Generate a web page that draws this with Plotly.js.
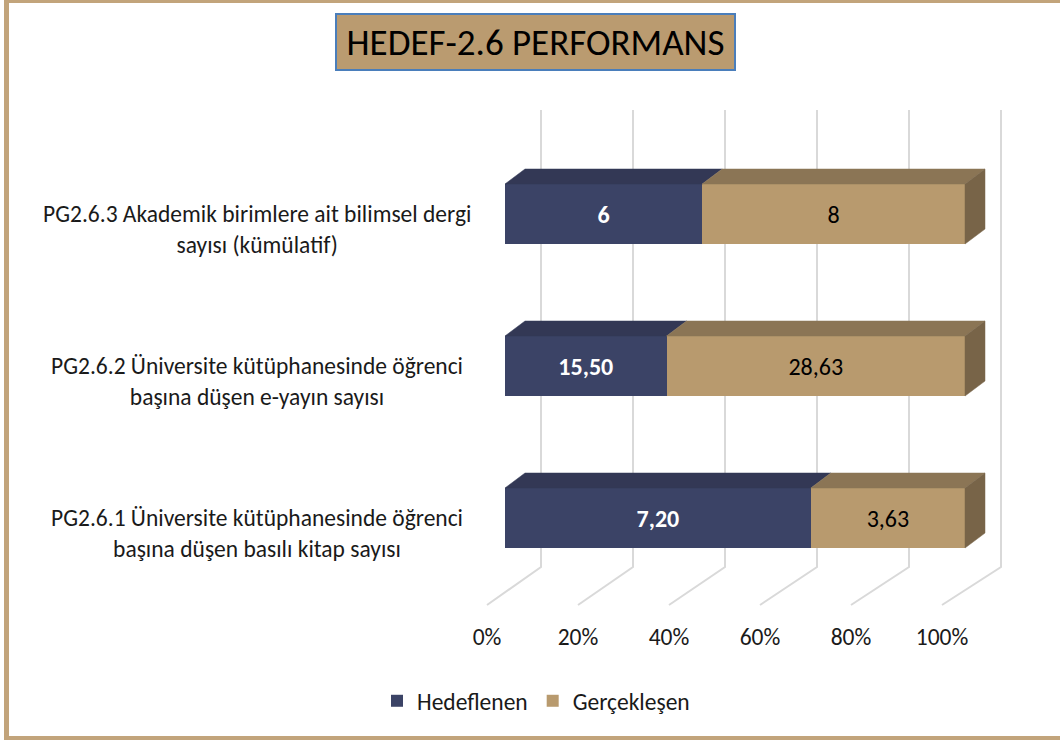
<!DOCTYPE html>
<html>
<head>
<meta charset="utf-8">
<script src="https://cdn.plot.ly/plotly-3.0.1.min.js"></script>
<style>
  html, body { margin: 0; padding: 0; background: #ffffff; overflow: hidden; }
  #chart { width: 1060px; height: 740px; }
</style>
</head>
<body>
<div id="chart"></div>
<script>
// ---- data ----
const categories = [
  'PG2.6.1 Üniversite kütüphanesinde öğrenci<br>başına düşen basılı kitap sayısı',
  'PG2.6.2 Üniversite kütüphanesinde öğrenci<br>başına düşen e-yayın sayısı',
  'PG2.6.3 Akademik birimlere ait bilimsel dergi<br>sayısı (kümülatif)'
];
const hedeflenen = [7.20, 15.50, 6];
const gerceklesen = [3.63, 28.63, 8];
const hedefLabels = ['7,20', '15,50', '6'];
const gercekLabels = ['3,63', '28,63', '8'];
const tickValues = [0, 20, 40, 60, 80, 100];
const tickLabels = ['0%', '20%', '40%', '60%', '80%', '100%'];
const seriesNames = ['Hedeflenen', 'Gerçekleşen'];
const titleText = 'HEDEF-2.6 PERFORMANS';

// ---- style / geometry ----
const W = 1060, H = 740;
const M = { l: 480, r: 50, t: 100, b: 120, pad: 0 };
const pxPerX = 4.6;           // pixels per percent unit (bar front plane)
const pxPerY = 152;           // pixels per category step
const xRange = [-(505 - M.l) / pxPerX, -(505 - M.l) / pxPerX + (W - M.l - M.r) / pxPerX];
const yRange = [-(H - M.b - 518) / pxPerY, -(H - M.b - 518) / pxPerY + (H - M.t - M.b) / pxPerY];
const barW = 60 / pxPerY;
const depthX = 20 / pxPerX, depthY = 15 / pxPerY;      // bar 3D depth
const floorFrontX = -18 / pxPerX, floorFrontScale = 455 / 460;
const floorBackX = 36 / pxPerX;
const floorFrontY = -87 / pxPerY, floorBackY = -49 / pxPerY, wallTopY = 408 / pxPerY;
const FONT = 'Carlito, Lato, "Open Sans", sans-serif';
const FS = 23.5;
const navy = '#3B4366', navyTop = '#333855';
const tan = '#B89A6E', tanTop = '#8B7555', tanSide = '#786448';

const pX = px => (px - M.l) / (W - M.l - M.r);
const pY = py => (H - M.b - py) / (H - M.t - M.b);

const yIdx = categories.map((c, i) => i);
const pctH = hedeflenen.map((v, i) => v / (v + gerceklesen[i]) * 100);

const traces = [
  {
    type: 'bar', orientation: 'h', name: seriesNames[0],
    y: yIdx, x: hedeflenen, width: barW,
    marker: { color: navy, line: { width: 0 } },
    text: hedefLabels, texttemplate: '%{text}', textposition: 'inside',
    insidetextanchor: 'middle', constraintext: 'none',
    textfont: { family: FONT, size: 24, color: '#ffffff', weight: 'bold' },
    hoverinfo: 'skip'
  },
  {
    type: 'bar', orientation: 'h', name: seriesNames[1],
    y: yIdx, x: gerceklesen, width: barW,
    marker: { color: tan, line: { width: 0 } },
    text: gercekLabels, texttemplate: '%{text}', textposition: 'inside',
    insidetextanchor: 'middle', constraintext: 'none',
    textfont: { family: FONT, size: 24, color: '#000000' },
    hoverinfo: 'skip'
  }
];

// 3D top & side faces, computed from the data
function face(xs, ys, color) {
  return { type: 'scatter', mode: 'lines', x: xs, y: ys, fill: 'toself',
    fillcolor: color, line: { color: color, width: 0.5 }, showlegend: false, hoverinfo: 'skip' };
}
yIdx.forEach((yc, i) => {
  const top = yc + barW / 2, bot = yc - barW / 2;
  const a = 0, b = pctH[i], c = 100;
  traces.push(face([a, b, b + depthX, a + depthX, a], [top, top, top + depthY, top + depthY, top], navyTop));
  traces.push(face([b, c, c + depthX, b + depthX, b], [top, top, top + depthY, top + depthY, top], tanTop));
  traces.push(face([c, c + depthX, c + depthX, c, c], [bot, bot + depthY, top + depthY, top, bot], tanSide));
});

// gridlines: floor diagonals and back wall verticals
const shapes = tickValues.map(t => ({
  type: 'path', xref: 'x', yref: 'y', layer: 'below',
  path: `M ${t * floorFrontScale + floorFrontX},${floorFrontY} L ${t + floorBackX},${floorBackY} L ${t + floorBackX},${wallTopY}`,
  line: { color: '#D9D9D9', width: 2 }
}));
// title box
shapes.push({ type: 'rect', xref: 'paper', yref: 'paper', layer: 'below',
  x0: pX(336), x1: pX(735), y0: pY(70), y1: pY(14),
  fillcolor: '#BA9B70', line: { color: '#4A7EBB', width: 2 } });
// outer frame
const frame = '#C2A47B';
shapes.push({ type: 'rect', xref: 'paper', yref: 'paper', x0: pX(4), x1: pX(9), y0: pY(740), y1: pY(0), fillcolor: frame, line: { width: 0 } });
shapes.push({ type: 'rect', xref: 'paper', yref: 'paper', x0: pX(4), x1: pX(1060), y0: pY(3), y1: pY(0), fillcolor: frame, line: { width: 0 } });
shapes.push({ type: 'rect', xref: 'paper', yref: 'paper', x0: pX(4), x1: pX(1060), y0: pY(740), y1: pY(736), fillcolor: frame, line: { width: 0 } });

// category labels
const annotations = categories.map((c, i) => ({
  xref: 'paper', yref: 'y', x: pX(257), y: i - 15 / pxPerY,
  xanchor: 'center', yanchor: 'middle', align: 'center', showarrow: false,
  text: c, font: { family: FONT, size: FS, color: '#1a1a1a' }
}));

const layout = {
  width: W, height: H, margin: M,
  paper_bgcolor: '#ffffff', plot_bgcolor: 'rgba(0,0,0,0)',
  barmode: 'stack', barnorm: 'percent',
  title: { text: titleText, font: { family: FONT, size: 37, color: '#000000' },
    xref: 'container', yref: 'container', x: 535.5 / W, y: 1 - 42 / H, xanchor: 'center', yanchor: 'middle' },
  xaxis: { range: xRange, showgrid: false, zeroline: false, showline: false, ticks: '',
    tickmode: 'array', tickvals: tickValues.map(t => t * floorFrontScale + floorFrontX), ticktext: tickLabels,
    tickfont: { family: FONT, size: FS, color: '#1a1a1a' }, fixedrange: true },
  yaxis: { range: yRange, showgrid: false, zeroline: false, showline: false, showticklabels: false, ticks: '', fixedrange: true },
  showlegend: true,
  legend: { orientation: 'h', xref: 'container', yref: 'container', x: 536 / W, y: 1 - 701 / H,
    xanchor: 'center', yanchor: 'middle', font: { family: FONT, size: FS, color: '#1a1a1a' },
    traceorder: 'normal', itemwidth: 30 },
  shapes: shapes, annotations: annotations,
  hovermode: false
};

Plotly.newPlot('chart', traces, layout, { displayModeBar: false, staticPlot: true });
</script>
</body>
</html>
